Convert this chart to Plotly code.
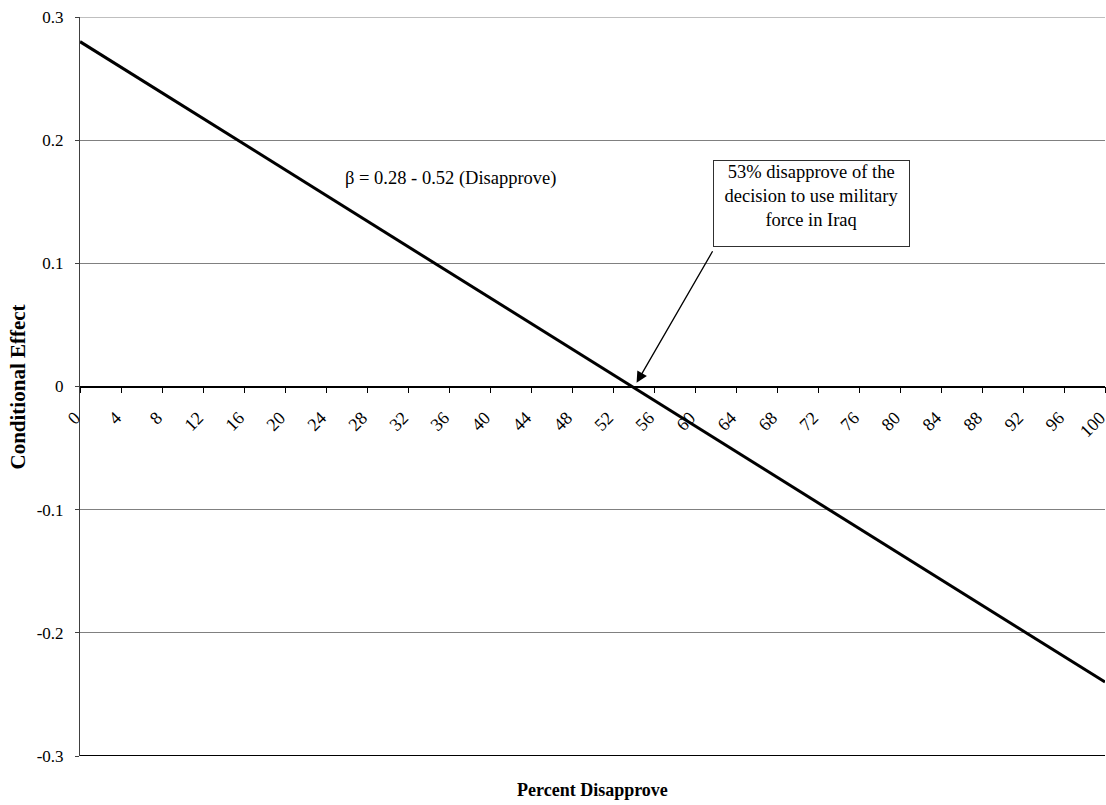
import plotly.graph_objects as go

# Data
pct_disapprove = [0, 100]
cond_effect = [0.28, -0.24]
x_ticks = list(range(0, 101, 4))
y_ticks = [0.3, 0.2, 0.1, 0, -0.1, -0.2, -0.3]
y_tick_text = ["0.3", "0.2", "0.1", "0", "-0.1", "-0.2", "-0.3"]
formula_text = "β = 0.28 - 0.52 (Disapprove)"
callout_text = "53% disapprove of the<br>decision to use military<br>force in Iraq"
arrow_tip = (54.3, 0.003)
arrow_tail = (61.8, 0.111)

FONT = "Liberation Serif, Times New Roman, serif"

fig = go.Figure()
fig.add_trace(go.Scatter(
    x=pct_disapprove, y=cond_effect, mode="lines",
    line=dict(color="black", width=3), showlegend=False, hoverinfo="skip"))

fig.update_layout(
    width=1106, height=805,
    margin=dict(l=80, r=1, t=17, b=49),
    paper_bgcolor="white", plot_bgcolor="white",
    font=dict(family=FONT, size=18, color="black"),
    xaxis=dict(
        range=[0, 100], tickmode="array", tickvals=x_ticks,
        ticktext=[str(v) for v in x_ticks], tickangle=-45,
        anchor="free", position=0.5, automargin=False,
        showline=True, linecolor="black", linewidth=1.5,
        ticks="outside", ticklen=6, tickcolor="black", tickwidth=1,
        showgrid=False, zeroline=False,
        tickfont=dict(family=FONT, size=18, color="black"),
        ticklabelstandoff=7, ticklabelshift=-5, ticklabeloverflow="allow",
    ),
    yaxis=dict(
        range=[-0.3, 0.3], tickmode="array", tickvals=y_ticks,
        ticktext=y_tick_text, automargin=False,
        showline=True, linecolor="#404040", linewidth=1,
        ticks="outside", ticklen=4, tickcolor="#404040",
        showgrid=True, gridcolor="#808080", gridwidth=1, zeroline=False,
        tickfont=dict(family=FONT, size=17, color="black"),
        ticklabelstandoff=8, ticklabeloverflow="allow",
    ),
)

# bottom border line at the axis minimum, top gridline at the maximum
fig.add_shape(type="line", xref="paper", yref="y", x0=0, x1=1,
              y0=y_ticks[-1], y1=y_ticks[-1], line=dict(color="black", width=2))
fig.add_shape(type="line", xref="paper", yref="y", x0=0, x1=1,
              y0=y_ticks[0], y1=y_ticks[0], line=dict(color="#808080", width=1))

# axis titles
fig.add_annotation(text="<b>Conditional Effect</b>", xref="paper", yref="paper",
                   x=-0.0605, y=0.5, textangle=-90, showarrow=False,
                   font=dict(family=FONT, size=21, color="black"),
                   xanchor="center", yanchor="middle")
fig.add_annotation(text="<b>Percent Disapprove</b>", xref="paper", yref="paper",
                   x=0.5, y=-0.0460, showarrow=False,
                   font=dict(family=FONT, size=18, color="black"),
                   xanchor="center", yanchor="middle")

# formula label
fig.add_annotation(text=formula_text, x=36.2, y=0.169, xref="x", yref="y",
                   showarrow=False, font=dict(family=FONT, size=18.5, color="black"),
                   xanchor="center", yanchor="middle")

# callout box
fig.add_annotation(text=callout_text, x=71.4, y=0.1484, xref="x", yref="y",
                   showarrow=False, font=dict(family=FONT, size=18.5, color="black"),
                   xanchor="center", yanchor="middle", align="center", valign="top",
                   width=193, height=83, bordercolor="#303030", borderwidth=1,
                   borderpad=1, bgcolor="white")

# arrow
fig.add_annotation(text="", x=arrow_tip[0], y=arrow_tip[1], xref="x", yref="y",
                   ax=arrow_tail[0], ay=arrow_tail[1], axref="x", ayref="y",
                   showarrow=True, arrowhead=2, arrowsize=1.7, arrowwidth=1.3,
                   arrowcolor="black")

fig.write_html(
    "out.html",
    config={"displayModeBar": False},
    post_script=(
        "document.documentElement.style.overflow='hidden';"
        "document.body.style.margin='0';"
        "document.body.style.overflow='hidden';"
    ),
)
